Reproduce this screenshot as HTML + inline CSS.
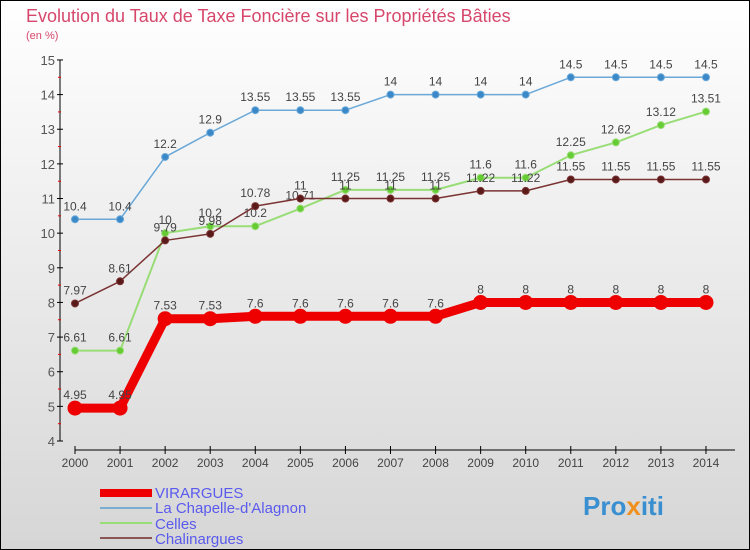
<!DOCTYPE html>
<html><head><meta charset="utf-8"><style>
body{margin:0}
svg{display:block;font-family:"Liberation Sans",sans-serif}
</style></head><body>
<svg id="c" width="750" height="550" xmlns="http://www.w3.org/2000/svg">
<defs><linearGradient id="bg" x1="0" y1="0" x2="0" y2="1"><stop offset="0" stop-color="#ffffff"/><stop offset="1" stop-color="#d6d6d6"/></linearGradient></defs>
<rect x="0.5" y="0.5" width="749" height="549" fill="url(#bg)" stroke="#000"/>
<text x="26" y="22" font-size="18" fill="#d6476b">Evolution du Taux de Taxe Foncière sur les Propriétés Bâties</text>
<text x="26" y="39" font-size="11" fill="#d6476b">(en %)</text>
<g id="axes"></g><g id="series"></g>
<g>
<rect x="100" y="489" width="52" height="8" fill="#e00"/>
<text x="155" y="498" font-size="15" fill="#5a5aee">VIRARGUES</text>
<rect x="100" y="507" width="52" height="2" fill="#7aaed0"/>
<text x="155" y="513" font-size="15" fill="#5a5aee">La Chapelle-d'Alagnon</text>
<rect x="100" y="522" width="52" height="2" fill="#99dd77"/>
<text x="155" y="529" font-size="15" fill="#5a5aee">Celles</text>
<rect x="100" y="537" width="52" height="2" fill="#8a5555"/>
<text x="155" y="544" font-size="15" fill="#5a5aee">Chalinargues</text>
</g>
<text x="583" y="515" font-size="26" font-weight="bold" fill="#3a8fd0">Pro<tspan fill="#f09020">x</tspan>iti</text>
</svg>
<script>
const years=[2000,2001,2002,2003,2004,2005,2006,2007,2008,2009,2010,2011,2012,2013,2014];
const yTicks=[4,5,6,7,8,9,10,11,12,13,14,15];
const virargues=[4.95,4.95,7.53,7.53,7.6,7.6,7.6,7.6,7.6,8,8,8,8,8,8];
const chapelle=[10.4,10.4,12.2,12.9,13.55,13.55,13.55,14,14,14,14,14.5,14.5,14.5,14.5];
const celles=[6.61,6.61,10,10.2,10.2,10.71,11.25,11.25,11.25,11.6,11.6,12.25,12.62,13.12,13.51];
const chalinargues=[7.97,8.61,9.79,9.98,10.78,11,11,11,11,11.22,11.22,11.55,11.55,11.55,11.55];
const NS="http://www.w3.org/2000/svg";
const X=i=>75+i*45.07;
const Y=v=>441-(v-4)*34.64;
function mk(t,a,p){const e=document.createElementNS(NS,t);for(const k in a)e.setAttribute(k,a[k]);p.appendChild(e);return e;}
const ax=document.getElementById('axes');
mk('line',{x1:60,y1:60,x2:60,y2:441,stroke:'#000'},ax);
mk('line',{x1:75,y1:450,x2:735,y2:450,stroke:'#000'},ax);
yTicks.forEach(v=>{
 mk('line',{x1:57,y1:Y(v),x2:63,y2:Y(v),stroke:'#000'},ax);
 if(v<15)mk('line',{x1:58,y1:Y(v+0.5),x2:61,y2:Y(v+0.5),stroke:'#e00'},ax);
 const t=mk('text',{x:55,y:Y(v)+5,'font-size':13,fill:'#555','text-anchor':'end'},ax);t.textContent=v;
 
 
});
years.forEach((y,i)=>{
 mk('line',{x1:X(i),y1:446,x2:X(i),y2:454,stroke:'#000'},ax);
 const t=mk('text',{x:X(i),y:467,'font-size':12,fill:'#444','text-anchor':'middle'},ax);t.textContent=y;
 
 
});
const sg=document.getElementById('series');
function draw(name,vals,color,dot,w,r){
 const g=mk('g',{},sg);
 
 
 mk('polyline',{points:vals.map((v,i)=>X(i)+','+Y(v)).join(' '),fill:'none',stroke:color,'stroke-width':w,'stroke-linejoin':'round'},g);
 vals.forEach((v,i)=>{
  const c=mk('circle',{cx:X(i),cy:Y(v),r:r,fill:dot,stroke:color,'stroke-width':1},g);
  
  
  const t=mk('text',{x:X(i),y:Y(v)-9,'font-size':12,fill:'#444','text-anchor':'middle'},g);t.textContent=v;
  
  
 });
}
draw('chapelle',chapelle,'#6aa8d8','#3a88c8',1.5,3.5);
draw('celles',celles,'#99dd77','#66cc33',2,3.5);
draw('chalinargues',chalinargues,'#7a3333','#5a1a1a',1.5,3.5);
draw('virargues',virargues,'#ee0000','#ee0000',9,7);
</script>
</body></html>
